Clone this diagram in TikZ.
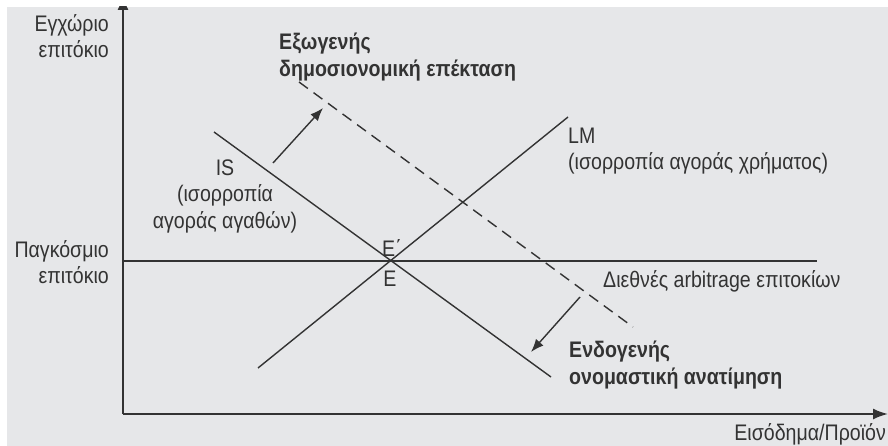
\documentclass[tikz,border=0pt]{standalone}
\usepackage{fontspec}
\setmainfont{Liberation Sans}[FakeStretch=0.87]
\usetikzlibrary{arrows.meta}
\tikzset{>=latex}
\definecolor{panel}{HTML}{E6E7E9}
\definecolor{ink}{HTML}{333333}
\tikzstyle{curve} = [draw=ink, line width=1.4pt]
\tikzstyle{axis} = [draw=ink, line width=2pt, -{Latex[length=15pt,width=11pt]}]
\tikzstyle{shiftarrow} = [draw=ink, line width=1.4pt, -{Latex[length=13pt,width=10pt]}]
\tikzstyle{txt} = [text=ink, inner sep=0pt, font=\fontsize{22.5}{26.5}\selectfont]
\tikzstyle{note} = [txt, font=\bfseries\fontsize{22.5}{26.5}\selectfont]

\begin{document}
\begin{tikzpicture}[x=1pt,y=-1pt]

\useasboundingbox (0,0) rectangle (888,446);
\fill[white] (0,0) rectangle (888,446);
\fill[panel] (7,7) rectangle (888,446);

% Axes and curves
\begin{scope}
\clip (7,7) rectangle (888,446);
\coordinate (origin) at (123,414);
\coordinate (ytop) at (123,-5);
\coordinate (xend) at (888,414);
\draw[axis] (origin) -- (ytop);
\draw[axis] (origin) -- (xend);

\coordinate (rate0) at (123,261);
\coordinate (rate1) at (817,261);
\draw[draw=ink, line width=2pt] (rate0) -- (rate1);

\coordinate (is0) at (214,132);
\coordinate (is1) at (551,377);
\draw[curve] (is0) -- (is1);

\coordinate (lm0) at (258,368);
\coordinate (lm1) at (568,117);
\draw[curve] (lm0) -- (lm1);

\coordinate (isn0) at (299,82);
\coordinate (isn1) at (633,327);
\draw[curve, dash pattern=on 11pt off 7pt] (isn0) -- (isn1);

% Shift arrows
\coordinate (up0) at (273,163);
\coordinate (up1) at (323,108);
\draw[shiftarrow] (up0) -- (up1);
\coordinate (dn0) at (580,297);
\coordinate (dn1) at (531,352);
\draw[shiftarrow] (dn0) -- (dn1);
\end{scope}

% Labels
\node[txt, anchor=east, align=right] (yname) at (109,36) {Εγχώριο\\επιτόκιο};
\node[txt, anchor=east, align=right] (world) at (109,262) {Παγκόσμιο\\επιτόκιο};
\node[note, anchor=west, align=left] (fiscal) at (279,57) {Εξωγενής\\δημοσιονομική επέκταση};
\node[txt, anchor=west, align=left] (lmname) at (568,151) {LM\\(ισορροπία αγοράς χρήματος)};
\node[txt, anchor=center, align=center] (isname) at (225,196) {IS\\(ισορροπία\\αγοράς αγαθών)};
\node[txt] (eprime) at (392,248) {Ε΄};
\node[txt] (eq) at (390,279) {Ε};
\node[txt, anchor=west] (arb) at (603,281) {Διεθνές arbitrage επιτοκίων};
\node[note, anchor=west, align=left] (reval) at (569,365) {Ενδογενής\\ονομαστική ανατίμηση};
\node[txt, anchor=east] (xname) at (886,434) {Εισόδημα/Προϊόν};

\end{tikzpicture}
\end{document}
